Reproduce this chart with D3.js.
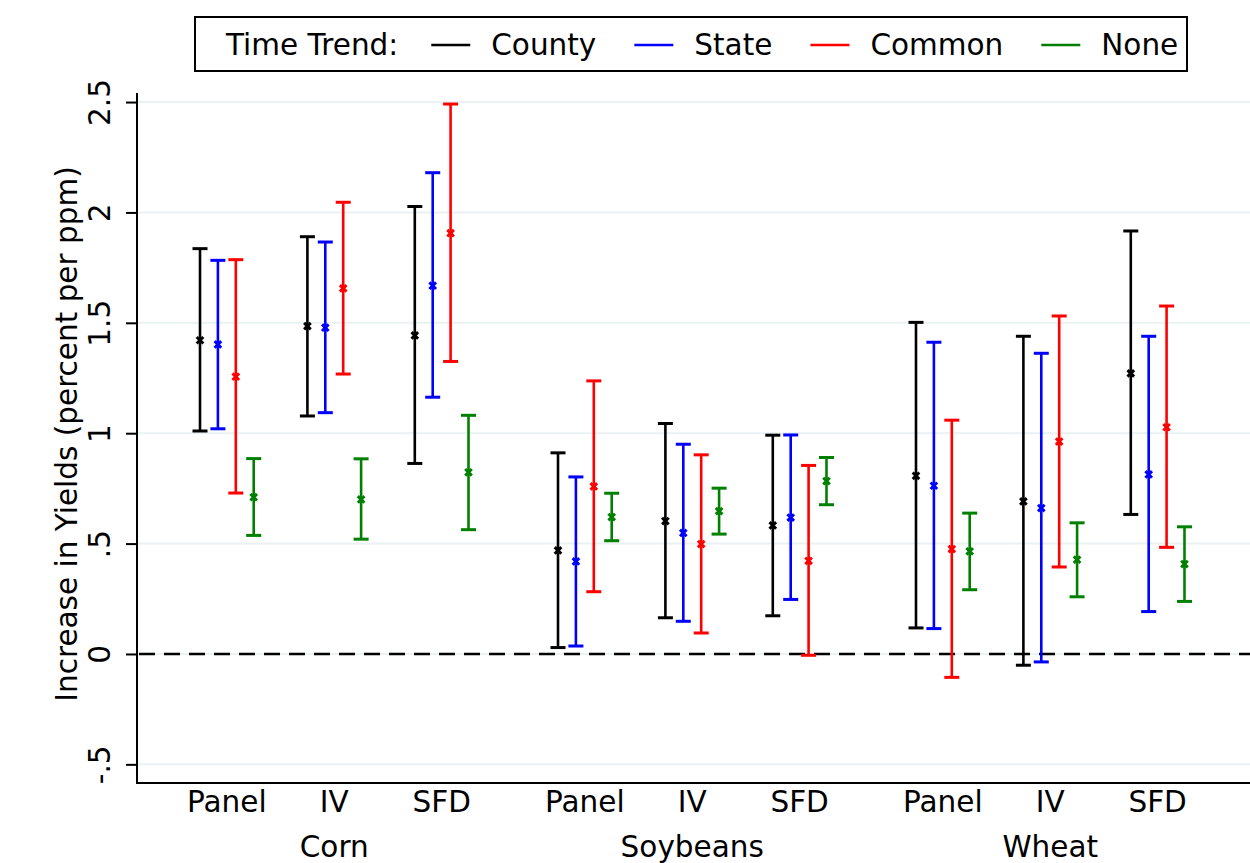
<!DOCTYPE html>
<html><head><meta charset="utf-8">
<script src="https://cdn.jsdelivr.net/npm/d3@7"></script>
<style>body{margin:0;background:#fff}svg{display:block}text{font-family:"DejaVu Sans",sans-serif}</style>
</head><body>
<svg id="c" width="1250" height="863"></svg>
<script>
const groups = ["Corn", "Soybeans", "Wheat"];
const methods = ["Panel", "IV", "SFD"];
const seriesNames = ["County", "State", "Common", "None"];
const seriesColors = ["#000000", "#0000ff", "#ff0000", "#008000"];
const yTickValues = [-0.5, 0, 0.5, 1, 1.5, 2, 2.5];
const yTickLabels = ["-.5", "0", ".5", "1", "1.5", "2", "2.5"];
const yTitle = "Increase in Yields (percent per ppm)";
const legendTitle = "Time Trend:";

// order: Corn Panel, IV, SFD, Soybeans Panel, IV, SFD, Wheat Panel, IV, SFD
const estCounty = [1.421, 1.485, 1.443, 0.469, 0.602, 0.582, 0.807, 0.691, 1.271];
const lowCounty = [1.010, 1.078, 0.863, 0.029, 0.164, 0.173, 0.118, -0.051, 0.632];
const highCounty = [1.836, 1.890, 2.027, 0.911, 1.044, 0.991, 1.502, 1.439, 1.916];

const estState = [1.402, 1.478, 1.668, 0.419, 0.548, 0.618, 0.762, 0.661, 0.813];
const lowState = [1.020, 1.093, 1.163, 0.036, 0.148, 0.247, 0.115, -0.036, 0.192];
const highState = [1.783, 1.866, 2.180, 0.802, 0.950, 0.992, 1.412, 1.362, 1.439];

const estCommon = [1.256, 1.656, 1.906, 0.759, 0.498, 0.422, 0.475, 0.962, 1.027];
const lowCommon = [0.729, 1.268, 1.325, 0.282, 0.095, -0.006, -0.106, 0.394, 0.483];
const highCommon = [1.786, 2.046, 2.491, 1.237, 0.902, 0.854, 1.059, 1.531, 1.576];

const estNone = [0.710, 0.700, 0.823, 0.620, 0.647, 0.783, 0.465, 0.427, 0.407];
const lowNone = [0.537, 0.520, 0.563, 0.513, 0.543, 0.676, 0.291, 0.259, 0.238];
const highNone = [0.885, 0.884, 1.081, 0.728, 0.751, 0.890, 0.638, 0.594, 0.576];

const seriesData = [
  [estCounty, lowCounty, highCounty],
  [estState, lowState, highState],
  [estCommon, lowCommon, highCommon],
  [estNone, lowNone, highNone]
];

(function () {
const svg = d3.select("#c");
const pLeft = 137, pRight = 1250, pTop = 93, pBottom = 783;
const fs = 29.5;

// slot units: group*20 + method*6 + series
const slot = (g, m, s) => g * 20 + m * 6 + s;
const x = d3.scaleLinear().domain([-3.52, 58.66]).range([pLeft, pRight]);
const y = d3.scaleLinear().domain([-0.5845, 2.541]).range([pBottom, pTop]);

// gridlines
svg.append("g").selectAll("line").data(yTickValues).join("line")
  .attr("x1", pLeft).attr("x2", pRight)
  .attr("y1", d => y(d)).attr("y2", d => y(d))
  .attr("stroke", "#eaf2f3").attr("stroke-width", 2);

// zero dashed line
svg.append("line").attr("x1", pLeft + 2).attr("x2", pRight)
  .attr("y1", y(0)).attr("y2", y(0))
  .attr("stroke", "#000").attr("stroke-width", 2.5)
  .attr("stroke-dasharray", "16,9");

// error bars
const pts = [];
seriesData.forEach((arr, s) => {
  arr[0].forEach((v, i) => {
    const g = Math.floor(i / 3), m = i % 3;
    pts.push({s, est: v, lo: arr[1][i], hi: arr[2][i], xv: slot(g, m, s)});
  });
});
const capW = 7.5, mk = 3.3;
const eb = svg.append("g").selectAll("g").data(pts).join("g")
  .attr("stroke", d => seriesColors[d.s]);
eb.append("line").attr("x1", d => x(d.xv)).attr("x2", d => x(d.xv))
  .attr("y1", d => y(d.lo)).attr("y2", d => y(d.hi)).attr("stroke-width", 2.6);
eb.append("line").attr("x1", d => x(d.xv) - capW).attr("x2", d => x(d.xv) + capW)
  .attr("y1", d => y(d.hi)).attr("y2", d => y(d.hi)).attr("stroke-width", 3);
eb.append("line").attr("x1", d => x(d.xv) - capW).attr("x2", d => x(d.xv) + capW)
  .attr("y1", d => y(d.lo)).attr("y2", d => y(d.lo)).attr("stroke-width", 3);
eb.append("path").attr("fill", "none").attr("stroke-width", 3)
  .attr("d", d => {
    const cx = x(d.xv), cy = y(d.est);
    return `M${cx - mk},${cy - mk}L${cx + mk},${cy + mk}M${cx - mk},${cy + mk}L${cx + mk},${cy - mk}`;
  });

// y axis
const yAxis = d3.axisLeft(y).tickValues(yTickValues)
  .tickFormat((d, i) => yTickLabels[i]).tickSize(11).tickSizeOuter(0);
const ya = svg.append("g").attr("transform", `translate(${pLeft},0)`).call(yAxis);
ya.attr("font-family", null).attr("font-size", null);
ya.select(".domain").attr("stroke", "#000").attr("stroke-width", 2)
  .attr("d", `M0,${pTop}V${pBottom}`);
ya.selectAll(".tick line").attr("stroke", "#000").attr("stroke-width", 2);
ya.selectAll(".tick text")
  .attr("font-size", fs).attr("fill", "#000")
  .attr("text-anchor", "middle")
  .attr("x", 0).attr("y", 0).attr("dy", 0)
  .attr("transform", "translate(-27,0) rotate(-90)");

// y title
svg.append("text").attr("transform", `translate(77,434) rotate(-90)`)
  .attr("text-anchor", "middle").attr("font-size", fs).text(yTitle);

// x axis line
svg.append("line").attr("x1", pLeft - 1).attr("x2", pRight).attr("y1", pBottom).attr("y2", pBottom)
  .attr("stroke", "#000").attr("stroke-width", 2);

// method labels
const mlab = [];
groups.forEach((g, gi) => methods.forEach((m, mi) => mlab.push({t: m, xv: slot(gi, mi, 1.5)})));
svg.append("g").selectAll("text").data(mlab).join("text")
  .attr("x", d => x(d.xv)).attr("y", 812).attr("text-anchor", "middle")
  .attr("font-size", fs).text(d => d.t);
svg.append("g").selectAll("text").data(groups).join("text")
  .attr("x", (d, i) => x(slot(i, 1, 1.5))).attr("y", 857).attr("text-anchor", "middle")
  .attr("font-size", fs).text(d => d);

// legend
const lg = svg.append("g");
lg.append("rect").attr("x", 195).attr("y", 17).attr("width", 992).attr("height", 54)
  .attr("fill", "#fff").attr("stroke", "#000").attr("stroke-width", 2);
let cx = 226;
const lt = lg.append("text").attr("x", cx).attr("y", 55).attr("font-size", fs).text(legendTitle);
cx += lt.node().getComputedTextLength() + 33;
seriesNames.forEach((n, i) => {
  lg.append("line").attr("x1", cx).attr("x2", cx + 39).attr("y1", 45).attr("y2", 45)
    .attr("stroke", seriesColors[i]).attr("stroke-width", 2.6);
  cx += 39 + 21;
  const t = lg.append("text").attr("x", cx).attr("y", 55).attr("font-size", fs).text(n);
  cx += t.node().getComputedTextLength() + 38;
});
})();
</script>
</body></html>
